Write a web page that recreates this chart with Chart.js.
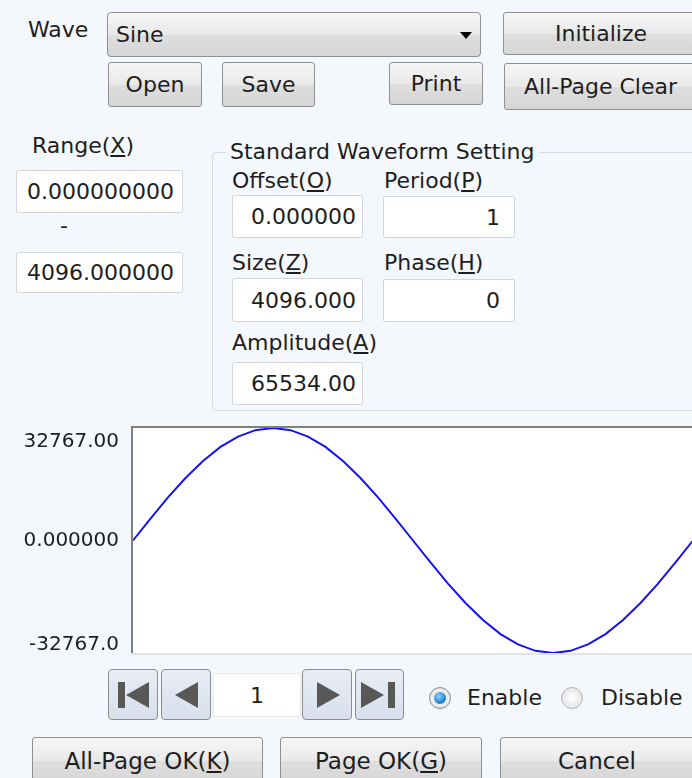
<!DOCTYPE html>
<html>
<head>
<meta charset="utf-8">
<script src="https://cdn.jsdelivr.net/npm/chart.js@4/dist/chart.umd.min.js"></script>
<style>
  body {
    margin: 0;
    width: 692px;
    height: 778px;
    overflow: hidden;
    background: #f4f8fc;
    font-family: "DejaVu Sans", sans-serif;
    font-size: 22px;
    color: #1e1e1e;
    position: relative;
  }
  .lbl { position: absolute; white-space: nowrap; height: 24px; line-height: 24px; }
  .btn {
    position: absolute; box-sizing: border-box;
    border: 1px solid #8e8f8f; border-radius: 3px;
    background: linear-gradient(#f6f6f6, #e9e9e9 50%, #dedede 51%, #d6d6d6);
    display: flex; align-items: center; justify-content: center;
    white-space: nowrap;
  }
  .box {
    position: absolute; box-sizing: border-box;
    border: 1px solid #d4d7da; border-radius: 2px;
    background: #fff;
    display: flex; align-items: center; justify-content: flex-end;
    white-space: nowrap;
  }
  .nav {
    position: absolute; box-sizing: border-box; top: 669px; width: 50px; height: 51px;
    border: 1px solid #8c8c8c; border-radius: 4px;
    background: linear-gradient(#e8edf5, #d8e0ec);
  }
  .tri { position: absolute; width: 0; height: 0; top: 12px; border-top: 13px solid transparent; border-bottom: 13px solid transparent; }
  .tl { border-right: 23px solid #585858; }
  .tr { border-left: 23px solid #585858; }
  .bar { position: absolute; top: 12px; width: 7px; height: 26px; background: #585858; }
  .radio {
    position: absolute; box-sizing: border-box; width: 22px; height: 22px; border-radius: 50%;
    border: 1px solid #8d8d8d; background: radial-gradient(#ffffff, #dcdcdc);
  }
  .dot {
    position: absolute; left: 4px; top: 4px; width: 12px; height: 12px; border-radius: 50%;
    background: radial-gradient(circle at 40% 35%, #8fd3ff, #1a78c2 70%, #0d4f8a);
  }
  #chartBox { position: absolute; left: 0; top: 415px; width: 700px; height: 250px; }
</style>
</head>
<body>

<div class="lbl" style="left:28px; top:18px;">Wave</div>
<div class="btn" style="left:107px; top:12px; width:374px; height:45px; justify-content:flex-start; padding-left:8px; border-radius:4px;">Sine</div>
<div style="position:absolute; left:460px; top:32px; width:0; height:0; border-left:6px solid transparent; border-right:6px solid transparent; border-top:7px solid #000;"></div>
<div class="btn" style="left:503px; top:12px; width:196px; height:43px;">Initialize</div>

<div class="btn" style="left:108px; top:62px; width:94px; height:45px;">Open</div>
<div class="btn" style="left:222px; top:62px; width:93px; height:45px;">Save</div>
<div class="btn" style="left:389px; top:62px; width:94px; height:43px;">Print</div>
<div class="btn" style="left:504px; top:63px; width:193px; height:47px;">All-Page Clear</div>

<div class="lbl" style="left:32px; top:134px;">Range(<u>X</u>)</div>
<div class="box" style="left:16px; top:170px; width:167px; height:43px; padding-right:8px;">0.000000000</div>
<div class="lbl" style="left:60px; top:214px;">-</div>
<div class="box" style="left:16px; top:252px; width:167px; height:41px; padding-right:8px;">4096.000000</div>

<div style="position:absolute; left:212px; top:152px; width:600px; height:259px; box-sizing:border-box; border:1px solid #d3dce3; border-radius:4px;"></div>
<div class="lbl" style="left:226px; top:140px; padding:0 4px; background:#f4f8fc;">Standard Waveform Setting</div>

<div class="lbl" style="left:232px; top:169px;">Offset(<u>O</u>)</div>
<div class="lbl" style="left:384px; top:169px;">Period(<u>P</u>)</div>
<div class="box" style="left:232px; top:195px; width:131px; height:43px; padding-right:6px;">0.000000</div>
<div class="box" style="left:383px; top:196px; width:132px; height:42px; padding-right:14px;">1</div>

<div class="lbl" style="left:232px; top:251px;">Size(<u>Z</u>)</div>
<div class="lbl" style="left:384px; top:251px;">Phase(<u>H</u>)</div>
<div class="box" style="left:232px; top:278px; width:131px; height:44px; padding-right:6px;">4096.000</div>
<div class="box" style="left:383px; top:279px; width:132px; height:43px; padding-right:14px;">0</div>

<div class="lbl" style="left:232px; top:331px;">Amplitude(<u>A</u>)</div>
<div class="box" style="left:232px; top:362px; width:131px; height:43px; padding-right:6px;">65534.00</div>

<div id="chartBox"><canvas id="graficoOnda" width="700" height="250"></canvas></div>

<div class="nav" style="left:108px;"><div class="bar" style="left:9px;"></div><div class="tri tl" style="left:17px;"></div></div>
<div class="nav" style="left:161px;"><div class="tri tl" style="left:13px;"></div></div>
<div class="box" style="left:213px; top:673px; width:88px; height:44px; border-color:#e4e6e8; justify-content:center;">1</div>
<div class="nav" style="left:302px;"><div class="tri tr" style="left:14px;"></div></div>
<div class="nav" style="left:355px; width:49px;"><div class="tri tr" style="left:5px;"></div><div class="bar" style="left:32px;"></div></div>

<div class="radio" style="left:429px; top:687px;"><div class="dot"></div></div>
<div class="lbl" style="left:467px; top:686px;">Enable</div>
<div class="radio" style="left:561px; top:687px; border-color:#b5b5b5;"></div>
<div class="lbl" style="left:601px; top:686px;">Disable</div>

<div class="btn" style="left:32px; top:737px; width:231px; height:48px; font-size:23px;">All-Page OK(<u>K</u>)</div>
<div class="btn" style="left:280px; top:737px; width:202px; height:48px; font-size:23px;">Page OK(<u>G</u>)</div>
<div class="btn" style="left:500px; top:737px; width:194px; height:48px; font-size:23px;">Cancel</div>

<script>
// amostras da forma de onda (eixo X: indice da amostra, 0..4096)
const sampleIdx = [0, 128, 256, 384, 512, 640, 768, 896, 1024, 1152, 1280, 1408, 1536, 1664, 1792, 1920,
  2048, 2176, 2304, 2432, 2560, 2688, 2816, 2944, 3072, 3200, 3328, 3456, 3584, 3712, 3840, 3968, 4096];
const waveValues = [0, 6400, 12540, 18200, 23170, 27250, 30270, 32140, 32767, 32140, 30270, 27250, 23170, 18200, 12540, 6400,
  0, -6400, -12540, -18200, -23170, -27250, -30270, -32140, -32767, -32140, -30270, -27250, -23170, -18200, -12540, -6400, 0];
const yTickValues = [-32767, 0, 32767];
const yTickLabels = ['-32767.0', '0.000000', '32767.00'];

document.addEventListener('DOMContentLoaded', function() {
  // moldura afundada do grafico
  const moldura = {
    id: 'moldura',
    beforeDraw(chart) {
      const a = chart.chartArea;
      const ctx = chart.ctx;
      ctx.save();
      ctx.fillStyle = '#ffffff';
      ctx.fillRect(a.left, a.top, a.right - a.left, a.bottom - a.top);
      ctx.fillStyle = '#e2e5e8';
      ctx.fillRect(a.left - 2, a.bottom, a.right - a.left + 4, 2);
      ctx.fillStyle = '#7f7f7f';
      ctx.fillRect(a.left - 2, a.top - 2, 2, a.bottom - a.top + 2);
      ctx.fillRect(a.left - 2, a.top - 2, a.right - a.left + 4, 2);
      ctx.restore();
    }
  };

  const ctxOnda = document.getElementById('graficoOnda').getContext('2d');
  new Chart(ctxOnda, {
    type: 'line',
    data: {
      datasets: [{
        data: sampleIdx.map((x, i) => ({ x: x, y: waveValues[i] })),
        borderColor: '#1414f0',
        borderWidth: 2,
        pointRadius: 0,
        tension: 0
      }]
    },
    plugins: [moldura],
    options: {
      responsive: false,
      animation: false,
      events: [],
      layout: { padding: { top: 13, bottom: 12, left: 0, right: 7 } },
      plugins: { legend: { display: false }, tooltip: { enabled: false } },
      scales: {
        x: { type: 'linear', min: 0, max: 4096, display: false },
        y: {
          min: -32767,
          max: 32767,
          afterFit: function(scale) {
            scale.width = 133;
            scale.paddingTop = 0;
            scale.paddingBottom = 0;
          },
          afterBuildTicks: function(scale) { scale.ticks = yTickValues.map(v => ({ value: v })); },
          grid: { display: false, drawTicks: false },
          border: { display: false },
          ticks: {
            padding: 14,
            color: '#1e1e1e',
            font: function(c) {
              const v = c.tick ? c.tick.value : 0;
              const lh = v > 0 ? '28px' : (v < 0 ? '16px' : '24px');
              return { family: 'DejaVu Sans', size: 20, lineHeight: lh };
            },
            callback: function(value) {
              const lbl = yTickLabels[yTickValues.indexOf(value)];
              if (value > 0) return ['', lbl];
              if (value < 0) return [lbl, ''];
              return lbl;
            }
          }
        }
      }
    }
  });
});
</script>
</body>
</html>
